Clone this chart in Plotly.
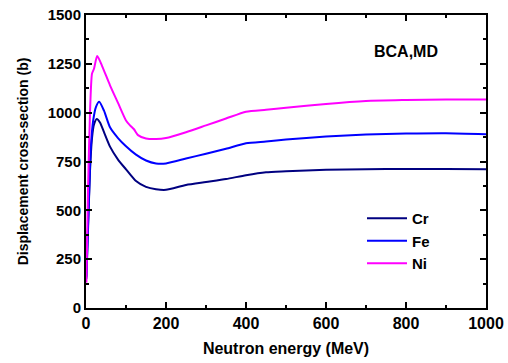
import plotly.graph_objects as go

cr_e = [1, 5, 10, 15, 20, 27, 35, 45, 60, 80, 100, 125, 150, 175, 200, 250, 300, 350, 400, 450, 500, 600, 700, 800, 900, 1000]
cr_v = [150, 400, 700, 870, 940, 968, 950, 900, 826, 760, 710, 650, 620, 608, 605, 630, 645, 660, 680, 695, 700, 708, 710, 712, 712, 710]

fe_e = [1, 5, 8, 12, 18, 25, 33, 45, 60, 80, 100, 125, 150, 175, 200, 250, 300, 350, 400, 450, 500, 600, 700, 800, 900, 1000]
fe_v = [160, 420, 600, 820, 960, 1030, 1056, 1010, 925, 870, 828, 785, 755, 740, 740, 765, 790, 815, 843, 852, 862, 878, 888, 893, 895, 890]

ni_e = [1, 5, 10, 15, 20, 28, 40, 60, 80, 100, 110, 120, 130, 150, 175, 200, 250, 300, 350, 400, 450, 500, 600, 700, 800, 900, 1000]
ni_v = [130, 600, 1000, 1200, 1225, 1290, 1240, 1140, 1050, 960, 935, 915, 885, 868, 865, 870, 900, 935, 970, 1005, 1015, 1025, 1045, 1060, 1065, 1068, 1068]

fig = go.Figure()
fig.add_trace(go.Scatter(x=cr_e, y=cr_v, mode="lines", name="Cr", line=dict(color="#000080", width=2, shape="spline", smoothing=0.6)))
fig.add_trace(go.Scatter(x=fe_e, y=fe_v, mode="lines", name="Fe", line=dict(color="#0000FF", width=2, shape="spline", smoothing=0.6)))
fig.add_trace(go.Scatter(x=ni_e, y=ni_v, mode="lines", name="Ni", line=dict(color="#FF00FF", width=2, shape="spline", smoothing=0.6)))

font_family = "Liberation Sans, Arial, sans-serif"
axis_common = dict(
    showline=True, linecolor="black", linewidth=2, mirror="allticks",
    ticks="inside", ticklen=6, tickwidth=2, tickcolor="black",
    showgrid=False, zeroline=False, automargin=False, ticklabeloverflow="allow",
)
fig.update_xaxes(range=[0, 1000], dtick=200, tick0=0,
                 tickfont=dict(family=font_family, size=16, color="black", weight="bold"),
                 minor=dict(ticks="inside", ticklen=3, tickwidth=2, dtick=100, tickcolor="black"),
                 title=dict(text="Neutron energy (MeV)", font=dict(family=font_family, size=16, color="black", weight="bold"), standoff=12),
                 **axis_common)
fig.update_yaxes(range=[0, 1500], dtick=250, tick0=0,
                 tickfont=dict(family=font_family, size=15, color="black", weight="bold"),
                 minor=dict(ticks="inside", ticklen=3, tickwidth=2, dtick=125, tickcolor="black"),
                 title=dict(text="Displacement cross-section (b)", font=dict(family=font_family, size=14, color="black", weight="bold"), standoff=16),
                 **axis_common)

fig.add_annotation(x=0.885, y=0.877, xref="paper", yref="paper", text="BCA,MD", showarrow=False,
                   xanchor="right", yanchor="middle",
                   font=dict(family=font_family, size=16, color="black", weight="bold"))

fig.update_layout(
    width=508, height=363,
    margin=dict(l=86, r=22, t=15, b=55),
    paper_bgcolor="white", plot_bgcolor="white",
    legend=dict(x=0.69, y=0.229, xanchor="left", yanchor="middle", bgcolor="rgba(0,0,0,0)",
                font=dict(family=font_family, size=15, color="black", weight="bold"),
                tracegroupgap=0, itemwidth=40),
    showlegend=True,
)

fig.write_html("out.html", config={"displayModeBar": False},
               post_script="document.body.style.margin='0';")
